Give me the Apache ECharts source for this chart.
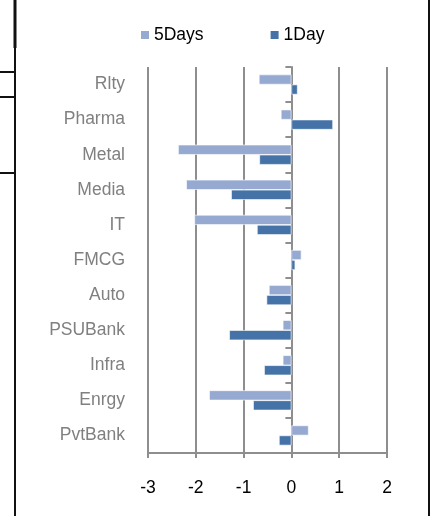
<!DOCTYPE html>
<html>
<head>
<meta charset="utf-8">
<script src="https://cdn.jsdelivr.net/npm/echarts@6/dist/echarts.min.js"></script>
<style>
html,body{margin:0;padding:0;background:#fff;}
#c{width:432px;height:516px;}
</style>
</head>
<body>
<div id="c"></div>
<script>
var categories = ['Rlty','Pharma','Metal','Media','IT','FMCG','Auto','PSUBank','Infra','Enrgy','PvtBank'];
var days5 = [-0.68, -0.22, -2.37, -2.2, -2.03, 0.21, -0.47, -0.18, -0.18, -1.72, 0.36];
var day1 = [0.13, 0.87, -0.67, -1.26, -0.72, 0.08, -0.52, -1.3, -0.57, -0.8, -0.26];
var xTicks = [-3, -2, -1, 0, 1, 2];

var FONT = 'Liberation Sans, Arial, sans-serif';
var chart = echarts.init(document.getElementById('c'));
chart.setOption({
  animation: false,
  backgroundColor: '#fff',
  legend: {
    left: 134, top: 21,
    itemWidth: 10, itemHeight: 10, itemGap: 65,
    icon: 'rect',
    textStyle: {fontFamily: FONT, fontSize: 17.5, color: '#000', padding: [0,0,0,-1]},
    data: ['5Days','1Day']
  },
  grid: {left: 148, right: 45, top: 67, bottom: 63, containLabel: false},
  xAxis: {
    type: 'value', min: xTicks[0], max: xTicks[xTicks.length-1], interval: 1,
    axisLine: {show: true, onZero: false, lineStyle: {color: '#8e8e8e', width: 2}},
    axisTick: {show: true, length: 5, lineStyle: {color: '#8e8e8e', width: 2}},
    axisLabel: {color: '#000', fontFamily: FONT, fontSize: 17.5, margin: 26},
    splitLine: {show: true, lineStyle: {color: '#8e8e8e', width: 2}}
  },
  yAxis: [{
    type: 'category', inverse: true, data: categories,
    axisLine: {show: false, onZero: false},
    axisTick: {show: false},
    axisLabel: {color: '#808080', fontFamily: FONT, fontSize: 17.5, margin: 23, padding: [3,0,0,0]}
  }, {
    type: 'category', inverse: true, data: categories, position: 'left',
    axisLine: {show: true, onZero: true, lineStyle: {color: '#8e8e8e', width: 2}},
    axisTick: {show: true, inside: false, length: 6, lineStyle: {color: '#8e8e8e', width: 2}},
    axisLabel: {show: false}
  }],
  series: [{
    name: '5Days', type: 'bar', data: days5, yAxisIndex: 0,
    barWidth: 10, barGap: '0%',
    itemStyle: {color: '#95A9D1', borderColor: '#fff', borderWidth: 0.6}
  }, {
    name: '1Day', type: 'bar', data: day1, yAxisIndex: 0,
    barWidth: 10, barGap: '0%',
    itemStyle: {color: '#4573A8', borderColor: '#fff', borderWidth: 0.6}
  }],
  graphic: [
    {type: 'line', shape: {x1: 15, y1: 0, x2: 15, y2: 516}, style: {stroke: '#111', lineWidth: 2}},
    {type: 'line', shape: {x1: 15, y1: 0, x2: 15, y2: 48}, style: {stroke: '#111', lineWidth: 3}},
    {type: 'line', shape: {x1: 0, y1: 72, x2: 15, y2: 72}, style: {stroke: '#111', lineWidth: 2}},
    {type: 'line', shape: {x1: 0, y1: 97, x2: 15, y2: 97}, style: {stroke: '#111', lineWidth: 2}},
    {type: 'line', shape: {x1: 0, y1: 173, x2: 15, y2: 173}, style: {stroke: '#111', lineWidth: 2}},
    {type: 'line', shape: {x1: 429, y1: 0, x2: 429, y2: 516}, style: {stroke: '#111', lineWidth: 2}}
  ]
});
</script>
</body>
</html>
